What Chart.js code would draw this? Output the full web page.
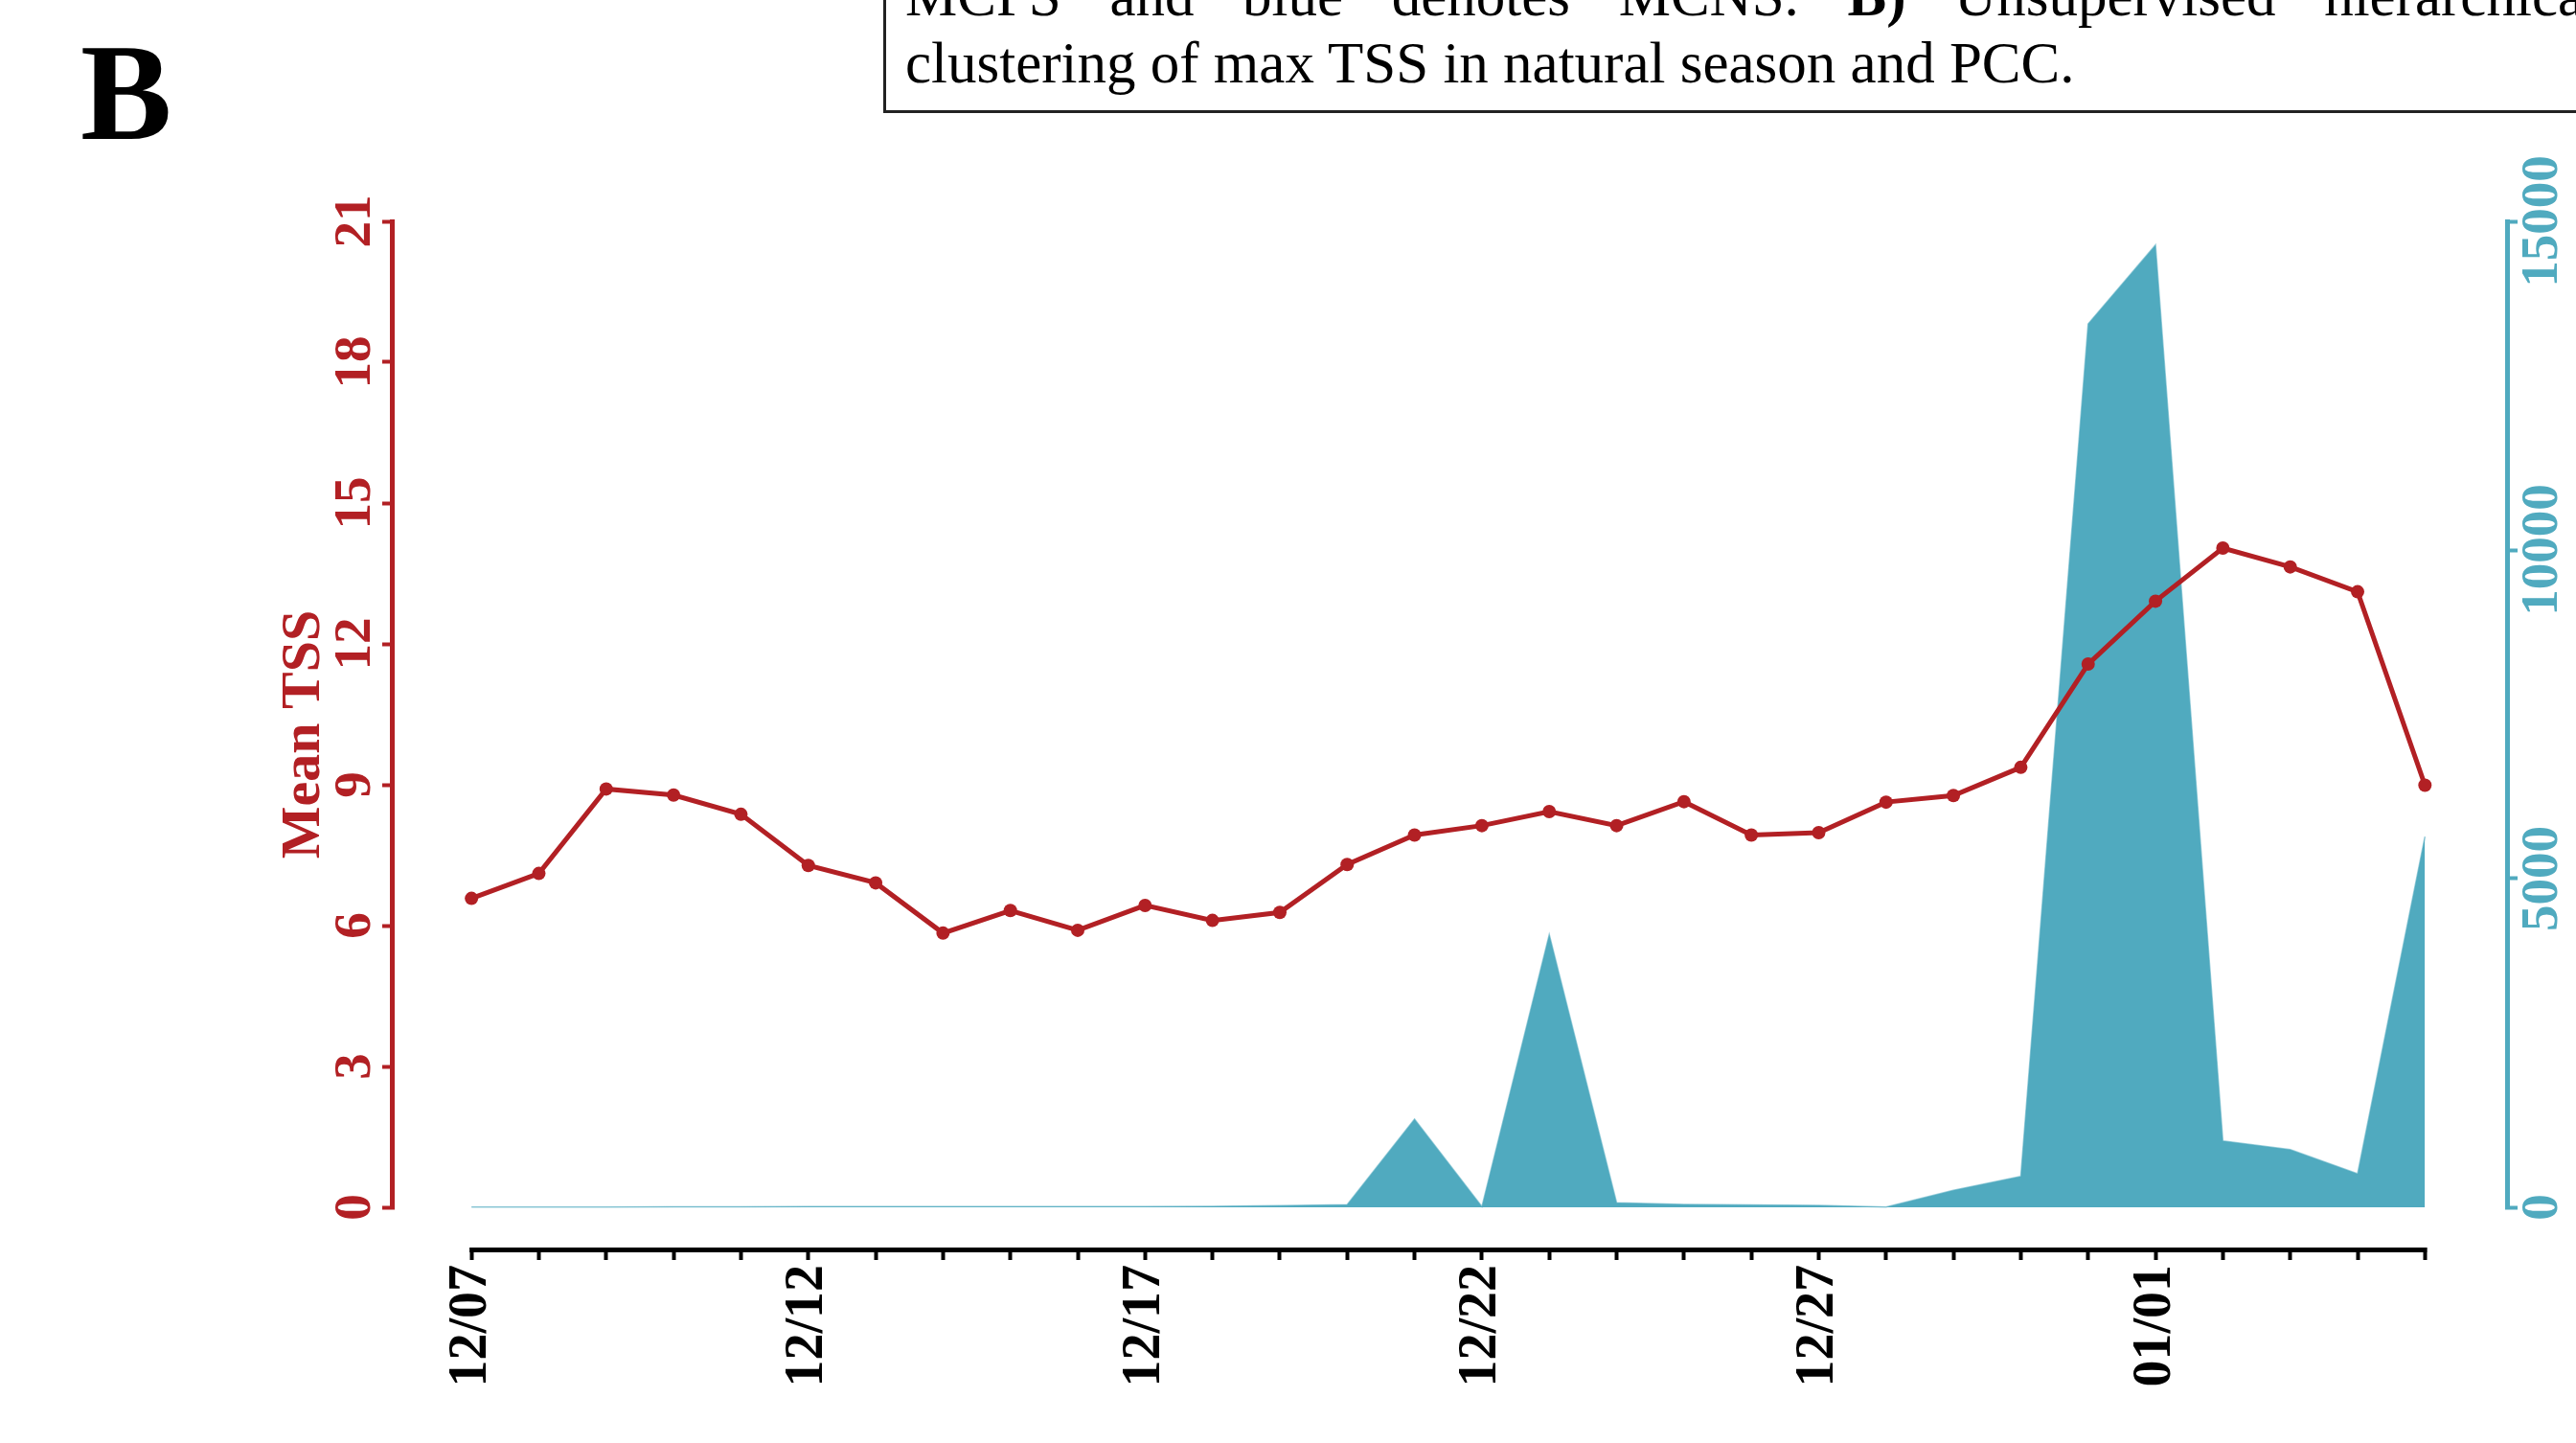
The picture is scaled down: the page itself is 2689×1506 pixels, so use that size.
<!DOCTYPE html>
<html>
<head>
<meta charset="utf-8">
<title>Mean TSS and max TSS</title>
<script src="https://cdn.jsdelivr.net/npm/chart.js@4/dist/chart.umd.min.js"></script>
<style>
  html, body { margin: 0; padding: 0; background: #fff; overflow: hidden; }
  #wrap { position: relative; width: 2689px; height: 1506px; overflow: hidden; }
  #c { position: absolute; left: 0; top: 0; }
  .panel { position: absolute; left: 84px; top: 26px; font: bold 143px/143px 'Liberation Serif', 'Times New Roman', serif; color: #000; }
  .caption-box { position: absolute; left: 922px; top: -60px; width: 1900px; height: 178px; box-sizing: border-box; border: 3px solid #222; background: #fff; }
  .caption-text { position: absolute; left: 945px; top: -39px; width: 1769px; font: 61px/70px 'Liberation Serif', 'Times New Roman', serif; color: #000; }
  .caption-text .justify { text-align: justify; text-align-last: justify; }
</style>
</head>
<body>
<div id="wrap">
  <canvas id="c" width="2689" height="1506" style="width:2689px;height:1506px"></canvas>
  <div class="panel">B</div>
  <div class="caption-box"></div>
  <div class="caption-text">
    <div class="justify">MCPS and blue denotes MCNS. <b>B)</b> Unsupervised hierarchical</div>
    <div>clustering of max TSS in natural season and PCC.</div>
  </div>
</div>
<script>
// daily values
const dates = ['12/07', '12/08', '12/09', '12/10', '12/11', '12/12', '12/13', '12/14', '12/15', '12/16',
               '12/17', '12/18', '12/19', '12/20', '12/21', '12/22', '12/23', '12/24', '12/25', '12/26',
               '12/27', '12/28', '12/29', '12/30', '12/31', '01/01', '01/02', '01/03', '01/04', '01/05'];
const meanTss = [6.58, 7.11, 8.91, 8.78, 8.37, 7.28, 6.91, 5.84, 6.32, 5.90,
                 6.43, 6.11, 6.28, 7.30, 7.93, 8.13, 8.43, 8.13, 8.64, 7.93,
                 7.98, 8.63, 8.77, 9.37, 11.57, 12.91, 14.04, 13.64, 13.11, 8.99];
const maxTss = [5, 5, 5, 8, 8, 10, 10, 10, 10, 10,
                12, 15, 25, 40, 1340, 10, 4150, 70, 45, 35,
                30, 5, 260, 470, 13440, 14640, 1010, 880, 510, 5640];
const leftTicks = [0, 3, 6, 9, 12, 15, 18, 21];
const rightTicks = [0, 5000, 10000, 15000];

const RED = '#B22024';
const TEAL = '#50AABF';
const FONT = "'Liberation Serif', 'Times New Roman', serif";
const GAP = 42 / 1029; // x axis sits a little below the zero line

// axis lines only span the tick range, not the whole chart area
const axisLines = {
    id: 'axisLines',
    afterDraw(chart) {
        const { ctx, scales: { x, yL, yR } } = chart;
        ctx.save();
        ctx.lineWidth = 5;

        ctx.strokeStyle = RED;
        ctx.beginPath();
        ctx.moveTo(yL.right - 2.5, yL.getPixelForValue(leftTicks[leftTicks.length - 1]) - 2);
        ctx.lineTo(yL.right - 2.5, yL.getPixelForValue(0) + 2);
        ctx.stroke();

        ctx.strokeStyle = TEAL;
        ctx.beginPath();
        ctx.moveTo(yR.left + 2.5, yR.getPixelForValue(rightTicks[rightTicks.length - 1]) - 2);
        ctx.lineTo(yR.left + 2.5, yR.getPixelForValue(0) + 2);
        ctx.stroke();

        ctx.strokeStyle = '#000';
        ctx.beginPath();
        ctx.moveTo(x.getPixelForValue(0) - 2, x.top + 2.5);
        ctx.lineTo(x.getPixelForValue(dates.length - 1) + 2, x.top + 2.5);
        ctx.stroke();
        ctx.restore();
    }
};

new Chart(document.getElementById('c').getContext('2d'), {
    type: 'line',
    data: {
        datasets: [{
            label: 'Mean TSS',
            data: dates.map((d, i) => ({ x: i, y: meanTss[i] })),
            yAxisID: 'yL',
            borderColor: RED,
            backgroundColor: RED,
            borderWidth: 5,
            pointRadius: 7,
            pointBorderWidth: 0,
            tension: 0,
            fill: false
        }, {
            label: 'Max TSS',
            data: dates.map((d, i) => ({ x: i, y: maxTss[i] })),
            yAxisID: 'yR',
            borderColor: 'rgba(80, 170, 191, 0.6)',
            backgroundColor: TEAL,
            borderWidth: 1.5,
            pointRadius: 0,
            tension: 0,
            fill: 'origin'
        }]
    },
    options: {
        responsive: false,
        devicePixelRatio: 1,
        animation: false,
        layout: { padding: { top: 231, left: 0, right: 0, bottom: 0 } },
        plugins: {
            legend: { display: false },
            tooltip: { enabled: false }
        },
        scales: {
            x: {
                type: 'linear',
                min: -1.14,
                max: 30.19,
                afterBuildTicks: s => { s.ticks = dates.map((d, i) => ({ value: i })); },
                afterFit: s => { s.height = 204; },
                border: { display: false },
                grid: { drawOnChartArea: false, tickLength: 13, tickWidth: 4, tickColor: '#000' },
                ticks: {
                    autoSkip: false,
                    minRotation: 90,
                    maxRotation: 90,
                    padding: 5,
                    color: '#000',
                    font: { family: FONT, size: 56, weight: 'bold' },
                    callback: v => (v % 5 === 0 ? dates[v] : '')
                }
            },
            yL: {
                position: 'left',
                min: -21 * GAP,
                max: 21,
                afterBuildTicks: s => { s.ticks = leftTicks.map(v => ({ value: v })); },
                afterFit: s => { s.width = 412; },
                border: { display: false },
                grid: { drawOnChartArea: false, tickLength: 13, tickWidth: 4, tickColor: RED },
                ticks: {
                    minRotation: 90,
                    maxRotation: 90,
                    crossAlign: 'center',
                    padding: 0,
                    color: RED,
                    font: { family: FONT, size: 55, weight: 'bold' },
                    callback: v => String(v)
                },
                title: {
                    display: true,
                    text: 'Mean TSS',
                    color: RED,
                    font: { family: FONT, size: 58, weight: 'bold' },
                    padding: { top: 283, bottom: 0 }
                }
            },
            yR: {
                position: 'right',
                min: -15000 * GAP,
                max: 15000,
                afterBuildTicks: s => { s.ticks = rightTicks.map(v => ({ value: v })); },
                afterFit: s => { s.width = 74; },
                border: { display: false },
                grid: { drawOnChartArea: false, tickLength: 13, tickWidth: 4, tickColor: TEAL },
                ticks: {
                    minRotation: 90,
                    maxRotation: 90,
                    crossAlign: 'center',
                    padding: -42,
                    color: TEAL,
                    font: { family: FONT, size: 55, weight: 'bold' },
                    callback: v => String(v)
                }
            }
        }
    },
    plugins: [axisLines]
});
</script>
</body>
</html>
